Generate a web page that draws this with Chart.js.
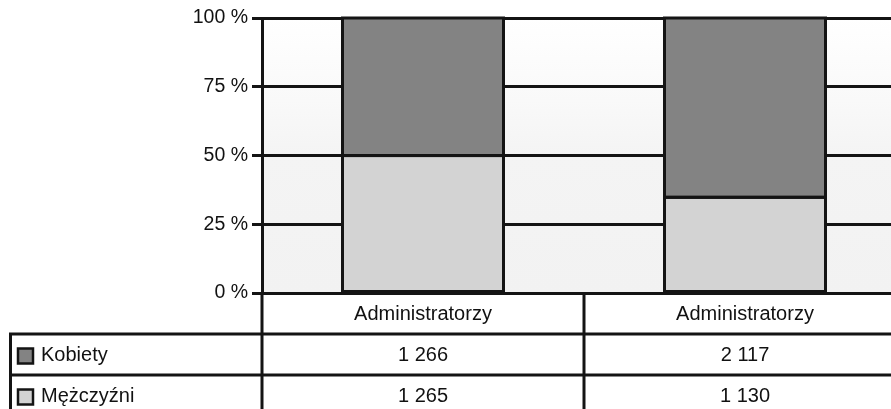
<!DOCTYPE html>
<html>
<head>
<meta charset="utf-8">
<script src="https://cdn.jsdelivr.net/npm/chart.js@4/dist/chart.umd.min.js"></script>
<style>
html,body{margin:0;padding:0;background:#fff;overflow:hidden;width:891px;height:409px;}
canvas{display:block;}
</style>
</head>
<body>
<canvas id="c" width="906" height="409"></canvas>
<script>
const categories = ['Administratorzy', 'Administratorzy'];
const seriesNames = ['Kobiety', 'Mężczyźni'];
const kobiety = [1266, 2117];
const mezczyzni = [1265, 1130];
const yTickValues = [0, 25, 50, 75, 100];
const countLabels = {
  'Kobiety': ['1 266', '2 117'],
  'Mężczyźni': ['1 265', '1 130']
};

const colorK = '#838383';
const colorM = '#d3d3d3';
const LINE = '#141414';
const FONT = 'Liberation Sans, Arial, Helvetica, sans-serif';
const FS = 20;
const FS_TICK = 19.5;

const totals = kobiety.map((k, i) => k + mezczyzni[i]);
const pctK = kobiety.map((k, i) => k / totals[i] * 100);
const pctM = mezczyzni.map((m, i) => m / totals[i] * 100);

const bgPlugin = {
  id: 'bg',
  beforeDraw(chart) {
    const {ctx, chartArea: a} = chart;
    const g = ctx.createLinearGradient(0, a.top, 0, a.bottom);
    g.addColorStop(0, '#ffffff');
    g.addColorStop(0.3, '#f9f9f9');
    g.addColorStop(0.5, '#f4f4f4');
    g.addColorStop(1, '#f2f2f2');
    ctx.save();
    ctx.fillStyle = g;
    ctx.fillRect(a.left, a.top, a.right - a.left, a.bottom - a.top);
    ctx.restore();
  }
};

// outline every bar element, centred on its edges, from the library's own geometry
const outlinePlugin = {
  id: 'outline',
  afterDatasetsDraw(chart) {
    const ctx = chart.ctx;
    ctx.save();
    ctx.strokeStyle = LINE;
    ctx.lineWidth = 3;
    chart.data.datasets.forEach((ds, di) => {
      chart.getDatasetMeta(di).data.forEach(el => {
        const p = el.getProps(['x', 'y', 'base', 'width'], true);
        const top = Math.min(p.y, p.base), h = Math.abs(p.base - p.y);
        ctx.strokeRect(p.x - p.width / 2, top, p.width, h);
      });
    });
    ctx.restore();
  }
};

const tablePlugin = {
  id: 'table',
  afterDraw(chart) {
    const {ctx, chartArea: a, width, height} = chart;
    const xs = chart.scales.x;
    const rowH = 41;
    const r0 = a.bottom, r1 = r0 + rowH, r2 = r1 + rowH;
    const centers = categories.map((_, i) => xs.getPixelForValue(i));
    ctx.save();
    ctx.strokeStyle = LINE;
    ctx.lineWidth = 3;
    ctx.beginPath();
    ctx.moveTo(9, r1); ctx.lineTo(width, r1);
    ctx.moveTo(9, r2); ctx.lineTo(width, r2);
    ctx.moveTo(10.5, r1); ctx.lineTo(10.5, height);
    ctx.moveTo(a.left, a.bottom); ctx.lineTo(a.left, height);
    for (let i = 0; i < centers.length - 1; i++) {
      const b = Math.round((centers[i] + centers[i + 1]) / 2);
      ctx.moveTo(b, a.bottom); ctx.lineTo(b, height);
    }
    ctx.stroke();

    ctx.fillStyle = '#111';
    ctx.font = FS + 'px ' + FONT;
    ctx.textBaseline = 'middle';
    ctx.textAlign = 'center';
    categories.forEach((c, i) => ctx.fillText(c, centers[i], r0 + rowH / 2 + 1));
    const rows = [r1, r2];
    const cols = [colorK, colorM];
    seriesNames.forEach((name, j) => {
      const yMid = rows[j] + rowH / 2 + 1;
      ctx.textAlign = 'center';
      ctx.fillStyle = '#111';
      countLabels[name].forEach((v, i) => ctx.fillText(v, centers[i], yMid));
      ctx.fillStyle = cols[j];
      ctx.fillRect(18, yMid - 7, 15, 15);
      ctx.lineWidth = 2.5;
      ctx.strokeStyle = LINE;
      ctx.strokeRect(18, yMid - 7, 15, 15);
      ctx.fillStyle = '#111';
      ctx.textAlign = 'left';
      ctx.fillText(name, 41, yMid);
    });
    ctx.restore();
  }
};

new Chart(document.getElementById('c'), {
  type: 'bar',
  data: {
    labels: categories,
    datasets: [
      {label: seriesNames[1], data: pctM, backgroundColor: colorM, borderWidth: 0, categoryPercentage: 0.5, barPercentage: 1, inflateAmount: 0},
      {label: seriesNames[0], data: pctK, backgroundColor: colorK, borderWidth: 0, categoryPercentage: 0.5, barPercentage: 1, inflateAmount: 0}
    ]
  },
  options: {
    responsive: false,
    animation: false,
    devicePixelRatio: 1,
    layout: {padding: {top: 18, bottom: 116, left: 0, right: 0}},
    plugins: {legend: {display: false}, tooltip: {enabled: false}, title: {display: false}},
    scales: {
      x: {stacked: true, display: false},
      y: {
        stacked: true,
        min: 0, max: 100,
        afterBuildTicks(s) { s.ticks = yTickValues.map(v => ({value: v})); },
        afterFit(s) { s.width = 262; },
        ticks: {
          callback: v => v + ' %',
          color: '#111',
          font: {family: FONT, size: FS_TICK},
          padding: 4
        },
        grid: {color: LINE, lineWidth: 3, tickLength: 10, drawTicks: true},
        border: {display: true, color: LINE, width: 3}
      }
    }
  },
  plugins: [bgPlugin, outlinePlugin, tablePlugin]
});
</script>
</body>
</html>
